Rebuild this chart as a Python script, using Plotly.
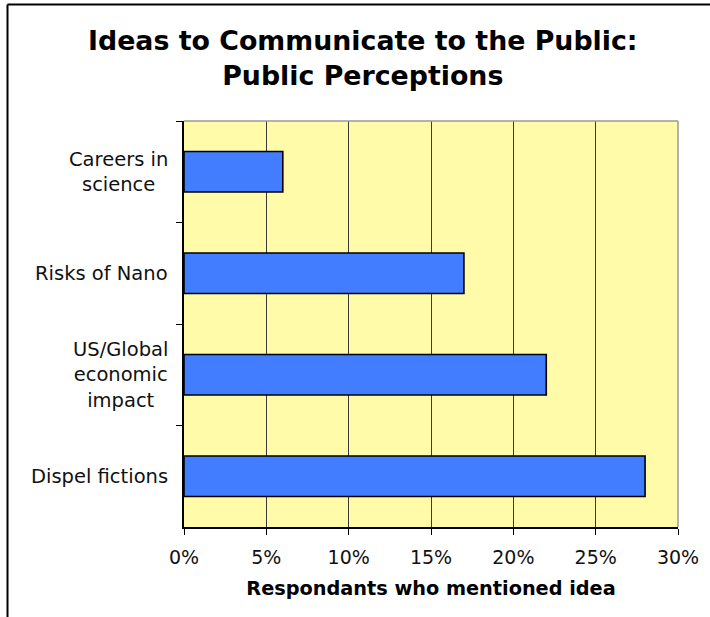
import plotly.graph_objects as go

# Survey results: share of respondents mentioning each idea (top to bottom)
categories = ["Careers in science", "Risks of Nano", "US/Global economic impact", "Dispel fictions"]
label_text = ["Careers in<br>science", "Risks of Nano", "US/Global<br>economic<br>impact", "Dispel fictions"]
share = [0.06, 0.17, 0.22, 0.28]
x_ticks = [0, 0.05, 0.10, 0.15, 0.20, 0.25, 0.30]

W, H = 710, 617
ML, MR, MT, MB = 184, 32, 121, 90
pw, ph = W - ML - MR, H - MT - MB

FONT = "DejaVu Sans"


def px_x(px):
    return (px - ML) / pw


def px_y(py):
    return (H - MB - py) / ph


fig = go.Figure(
    go.Bar(
        y=categories,
        x=share,
        orientation="h",
        marker=dict(color="#427CFF", line=dict(color="#000000", width=1.6)),
        hoverinfo="skip",
    )
)

# Category labels: centred lines, block anchored next to the axis
annotations = [
    dict(
        x=px_x(170), xref="paper", y=cat, yref="y",
        text=txt, showarrow=False, xanchor="right", yanchor="middle",
        align="center", font=dict(family=FONT, size=19.5, color="#111111"),
    )
    for cat, txt in zip(categories, label_text)
]

# Chart title
annotations.append(
    dict(
        x=px_x(363), xref="paper", y=px_y(23), yref="paper",
        text="<b>Ideas to Communicate to the Public:<br>Public Perceptions</b>",
        showarrow=False, xanchor="center", yanchor="top", align="center",
        font=dict(family=FONT, size=26.8, color="#000000"),
    )
)

shapes = [
    # outer chart frame (left and top edges visible)
    dict(type="line", xref="paper", yref="paper",
         x0=px_x(7.5), x1=px_x(7.5), y0=-1, y1=px_y(4.5),
         line=dict(color="#000000", width=2)),
    dict(type="line", xref="paper", yref="paper",
         x0=px_x(7.5), x1=2, y0=px_y(4.5), y1=px_y(4.5),
         line=dict(color="#000000", width=2)),
    # plot-area frame, top and right
    dict(type="line", xref="x domain", yref="y domain", x0=0, x1=1, y0=1, y1=1,
         line=dict(color="#999999", width=1.5), layer="above"),
    dict(type="line", xref="x domain", yref="y domain", x0=1, x1=1, y0=0, y1=1,
         line=dict(color="#999999", width=1.5), layer="above"),
]

fig.update_layout(
    width=W, height=H,
    margin=dict(l=ML, r=MR, t=MT, b=MB),
    paper_bgcolor="#FFFFFF",
    plot_bgcolor="#FFFBA8",
    bargap=0.6,
    showlegend=False,
    xaxis=dict(
        range=[0, 0.30],
        tickvals=x_ticks,
        tickformat=".0%",
        ticks="outside", ticklen=6, tickcolor="#000000", tickwidth=1,
        ticklabelstandoff=6,
        showgrid=True, gridcolor="#3A3A3A", gridwidth=1,
        zeroline=False,
        showline=True, linecolor="#000000", linewidth=1.5,
        tickfont=dict(family=FONT, size=19, color="#111111"),
        title=dict(text="<b>Respondants who mentioned idea</b>",
                   font=dict(family=FONT, size=19.3, color="#000000"),
                   standoff=15),
        fixedrange=True,
    ),
    yaxis=dict(
        categoryorder="array", categoryarray=categories,
        autorange="reversed",
        tickson="boundaries",
        ticks="outside", ticklen=6, tickcolor="#000000", tickwidth=1,
        showticklabels=False,
        showgrid=False, zeroline=False,
        showline=True, linecolor="#000000", linewidth=1.5,
        fixedrange=True,
    ),
    annotations=annotations,
    shapes=shapes,
)

fig.write_html("out.html", include_plotlyjs=True)
